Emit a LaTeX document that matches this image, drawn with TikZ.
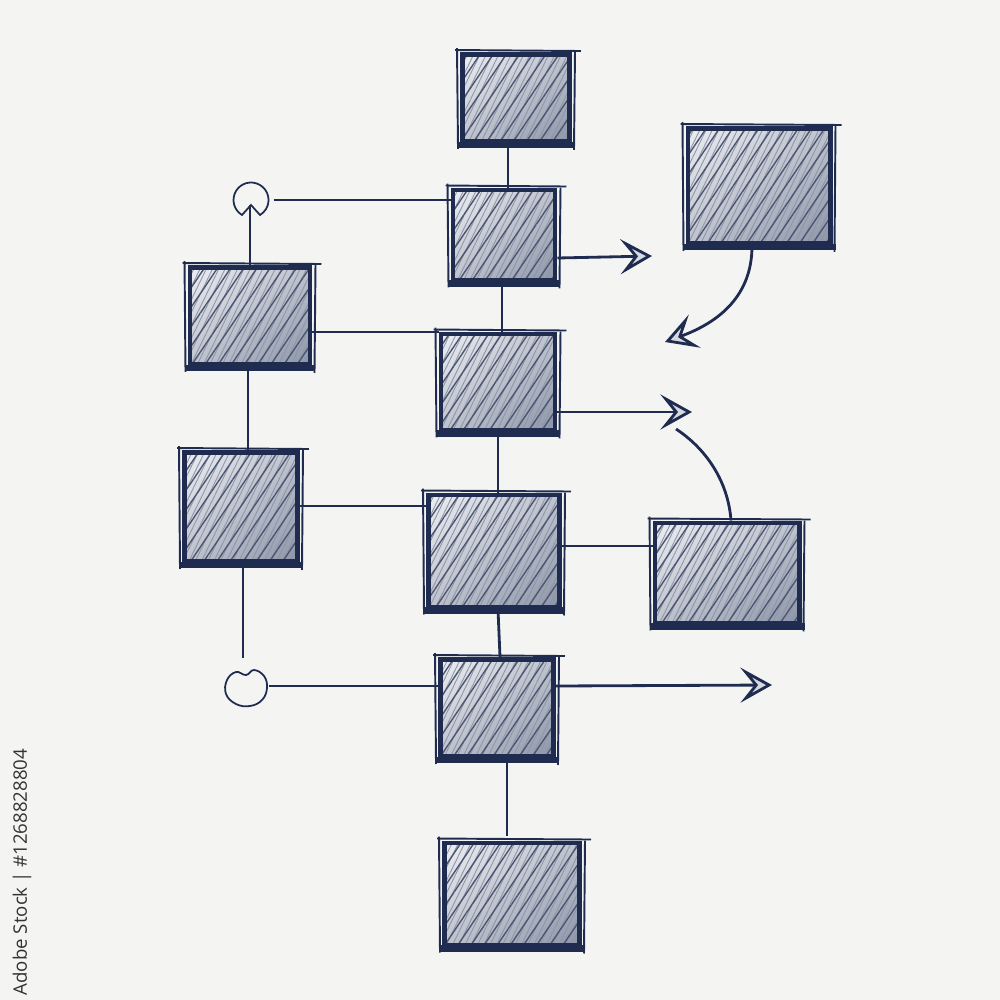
\documentclass[tikz,border=0pt]{standalone}
\usepackage{fontspec}
\newfontfamily\stockfont{Open Sans}
\usetikzlibrary{arrows.meta,patterns.meta,calc,shadings}
\definecolor{navy}{HTML}{1F2C50}
\definecolor{bgcol}{HTML}{F4F5F3}
\definecolor{boxA}{HTML}{ECEEF1}
\definecolor{boxB}{HTML}{8C95A8}
\definecolor{boxM}{HTML}{BEC3CD}
\definecolor{chev}{HTML}{D5D9E0}
\definecolor{textgrey}{HTML}{333333}
\tikzset{
 sbox/.style={draw=navy, line width=1.4pt, inner sep=0pt, path picture={
   \shade[upper left=boxA, upper right=boxM, lower left=boxM, lower right=boxB] (path picture bounding box.south west) rectangle (path picture bounding box.north east);
   \fill[pattern={Lines[angle=64,distance=1.6pt,line width=0.25pt]}, pattern color=navy!50] (path picture bounding box.south west) rectangle (path picture bounding box.north east);
   \fill[pattern={Lines[angle=56,distance=3.1pt,line width=0.4pt]}, pattern color=navy!80] (path picture bounding box.south west) rectangle (path picture bounding box.north east);
 }},
 skline/.style={draw=navy, line width=0.55pt},
 conn/.style={draw=navy, line width=0.8pt},
 sarrow/.style={conn, -{Stealth[length=9pt,width=10pt,inset=4pt,fill=chev]}},
 marker/.style={draw=none, circle, inner sep=0pt},
 markline/.style={draw=navy, line width=0.5pt},
}
\newcommand\skbox[5]{%
 \node[sbox, minimum width={#4*0.2845pt}, minimum height={#5*0.2845pt}] (#1) at (#2,#3) {};
 \draw[skline] ([shift={(4,4)}]#1.north west) rectangle ([shift={(-4,-4)}]#1.south east);
 \draw[skline] ([shift={(-5,-2)}]#1.north west) -- ([shift={(9,-1)}]#1.north east);
 \draw[skline] ([shift={(-3,-4)}]#1.north west) -- ([shift={(-2,5)}]#1.south west);
 \draw[skline] ([shift={(3,0)}]#1.north east) -- ([shift={(2,6)}]#1.south east);
 \draw[draw=navy, line width=1.8pt] ([shift={(-2,1)}]#1.south west) -- ([shift={(3,1)}]#1.south east);
}
\begin{document}
\begin{tikzpicture}[x=0.01cm,y=-0.01cm]
\fill[bgcol] (0,0) rectangle (1000,1000);
\useasboundingbox (0,0) rectangle (1000,1000);

% boxes
\skbox{t1}{516}{98}{107}{87}
\skbox{b2}{504}{235}{102}{90}
\skbox{rt}{759}{186}{142}{115}
\skbox{lA}{250}{316}{120}{97}
\skbox{c3}{498}{382}{114}{96}
\skbox{lB}{241}{507}{113}{109}
\skbox{c4}{494}{551}{131}{112}
\skbox{rb}{727}{573}{144}{100}
\skbox{c5}{497}{708}{113}{97}
\skbox{bt}{512}{894}{135}{102}

% markers
\node[marker, minimum size={34*0.2845pt}] (m1) at (251,200) {};
\draw[markline] ([shift={(0,5)}]m1.center) -- ([shift={(-9,15)}]m1.center) arc[start angle=121, end angle=419, radius=17.5] -- cycle;
\node[marker, minimum size={40*0.2845pt}] (m2) at (246,688) {};
\draw[markline, shift={(m2.center)}] plot[smooth cycle, tension=0.7] coordinates {(0,-13) (8,-18) (18,-12) (21,0) (16,12) (4,18) (-10,16) (-20,6) (-19,-8) (-10,-16)};

% free arrow ends
\coordinate (a1) at (652,256);
\coordinate (a2) at (665,342);
\coordinate (a3) at (692,412);
\coordinate (a3b) at (676,429);
\coordinate (a4) at (772,685);

% vertical connectors
\draw[conn] ([shift={(-8,0)}]t1.south) -- ([shift={(4,0)}]b2.north);
\draw[conn] ([shift={(-2,0)}]b2.south) -- ([shift={(4,0)}]c3.north);
\draw[conn] (c3.south) -- ([shift={(4,0)}]c4.north);
\draw[conn] ([shift={(4,0)}]c4.south) -- ([shift={(3,0)}]c5.north);
\draw[conn] ([shift={(10,0)}]c5.south) -- ([shift={(-5,-5)}]bt.north);
\draw[conn] (lA.north) -- ([shift={(-1,5)}]m1.center);
\draw[conn] ([shift={(-2,0)}]lA.south) -- ([shift={(7,0)}]lB.north);
\draw[conn] ([shift={(2,0)}]lB.south) -- ([shift={(-3,-9)}]m2.north);

% horizontal connectors
\draw[conn] ([shift={(5,0)}]m1.east) -- (m1.east -| b2.west);
\draw[conn] ([shift={(0,16)}]lA.east) -- ([shift={(0,-50)}]c3.west);
\draw[conn] ([shift={(0,-1)}]lB.east) -- ([shift={(0,-45)}]c4.west);
\draw[conn] ([shift={(0,-5)}]c4.east) -- ([shift={(0,-27)}]rb.west);
\draw[conn] ([shift={(2,-2)}]m2.east) -- ([shift={(0,-22)}]c5.west);

% arrows
\draw[sarrow] ([shift={(0,23)}]b2.east) -- (a1);
\draw[sarrow] ([shift={(-7,0)}]rt.south) .. controls (752,295) and (720,322) .. (a2);
\draw[sarrow] ([shift={(0,30)}]c3.east) -- (a3);
\draw[conn] ([shift={(4,0)}]rb.north) .. controls (728,480) and (705,448) .. (a3b);
\draw[sarrow] ([shift={(0,-22)}]c5.east) -- (a4);

% stock id text
\node[rotate=90, text=textgrey, font=\stockfont\fontsize{5.3}{6}\selectfont, inner sep=0pt] (stock) at (22,872) {Adobe Stock | \#1268828804};
\end{tikzpicture}
\end{document}
